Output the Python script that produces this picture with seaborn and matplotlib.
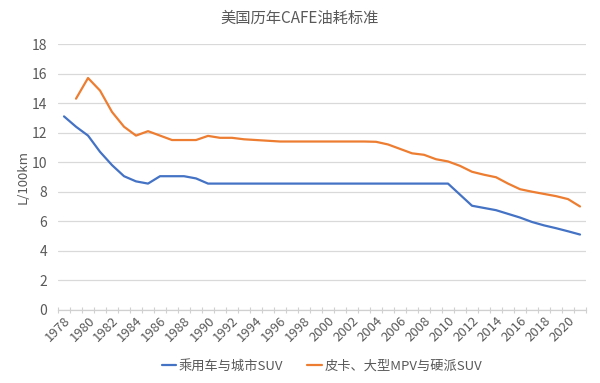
import matplotlib
matplotlib.use("Agg")
import matplotlib.pyplot as plt
import seaborn as sns
import pandas as pd
import numpy as np
from matplotlib.ticker import MultipleLocator

years = list(range(1978, 2022))
car_series = "乘用车与城市SUV"
truck_series = "皮卡、大型MPV与硬派SUV"

car_values = [13.1, 12.4, 11.8, 10.7, 9.8, 9.05, 8.7, 8.55, 9.05, 9.05,
              9.05, 8.9, 8.55, 8.55, 8.55, 8.55, 8.55, 8.55, 8.55, 8.55,
              8.55, 8.55, 8.55, 8.55, 8.55, 8.55, 8.55, 8.55, 8.55, 8.55,
              8.55, 8.55, 8.55, 7.8, 7.05, 6.9, 6.75, 6.5, 6.25, 5.95,
              5.72, 5.53, 5.32, 5.1]
truck_values = [None, 14.3, 15.7, 14.85, 13.4, 12.4, 11.8, 12.1, 11.8, 11.5,
                11.5, 11.5, 11.78, 11.65, 11.65, 11.55, 11.5, 11.45, 11.4, 11.4,
                11.4, 11.4, 11.4, 11.4, 11.4, 11.4, 11.38, 11.2, 10.9, 10.6,
                10.5, 10.2, 10.05, 9.75, 9.35, 9.15, 8.98, 8.55, 8.17, 8.0,
                7.85, 7.7, 7.5, 7.0]

title = "美国历年CAFE油耗标准"
y_label = "L/100km"

df = pd.concat([
    pd.DataFrame({"year": years, "value": car_values, "series": car_series}),
    pd.DataFrame({"year": years, "value": truck_values, "series": truck_series}),
]).dropna()

sns.set_theme(style="white")
plt.rcParams["font.family"] = ["Noto Sans CJK SC", "DejaVu Sans"]

fig = plt.figure(figsize=(6.0, 3.83), dpi=100)
ax = fig.add_axes([0.0967, 0.191, 0.88, 0.694])

sns.lineplot(data=df, x="year", y="value", hue="series",
             palette={car_series: "#4472C4", truck_series: "#ED7D31"},
             linewidth=1.6, ax=ax, legend=True)

ax.set_xlim(1977.5, 2021.5)
ax.set_ylim(0, 18)
ax.yaxis.set_major_locator(MultipleLocator(2))
ax.grid(axis="y", color="#d9d9d9", linewidth=0.9)
ax.set_axisbelow(True)
for s in ["top", "right", "left"]:
    ax.spines[s].set_visible(False)
ax.spines["bottom"].set_color("#d0d0d0")
ax.spines["bottom"].set_linewidth(0.9)

ax.set_xticks(years[::2])
ax.set_xticklabels([str(y) for y in years[::2]], rotation=45, ha="right",
                   rotation_mode="anchor", fontsize=9.5, color="#595959")
ax.set_xticks(np.arange(1977.5, 2022.0, 1.0), minor=True)
ax.tick_params(axis="x", which="major", length=0, pad=3)
ax.tick_params(axis="x", which="minor", length=4, direction="inout",
               color="#d0d0d0", width=0.8, bottom=True)
ax.tick_params(axis="y", length=0, labelsize=10, labelcolor="#595959", pad=8)

ax.set_xlabel("")
ax.set_ylabel(y_label, fontsize=9.5, color="#595959", labelpad=1)
fig.suptitle(title, x=0.5, y=0.975, fontsize=11, color="#595959")

leg = ax.legend(loc="center", bbox_to_anchor=(0.5, -0.212), ncol=2,
                frameon=False, fontsize=9.5, handlelength=1.1,
                handletextpad=0.2, columnspacing=1.8)
for t in leg.get_texts():
    t.set_color("#595959")

fig.savefig("out.png", dpi=100, facecolor="white")
